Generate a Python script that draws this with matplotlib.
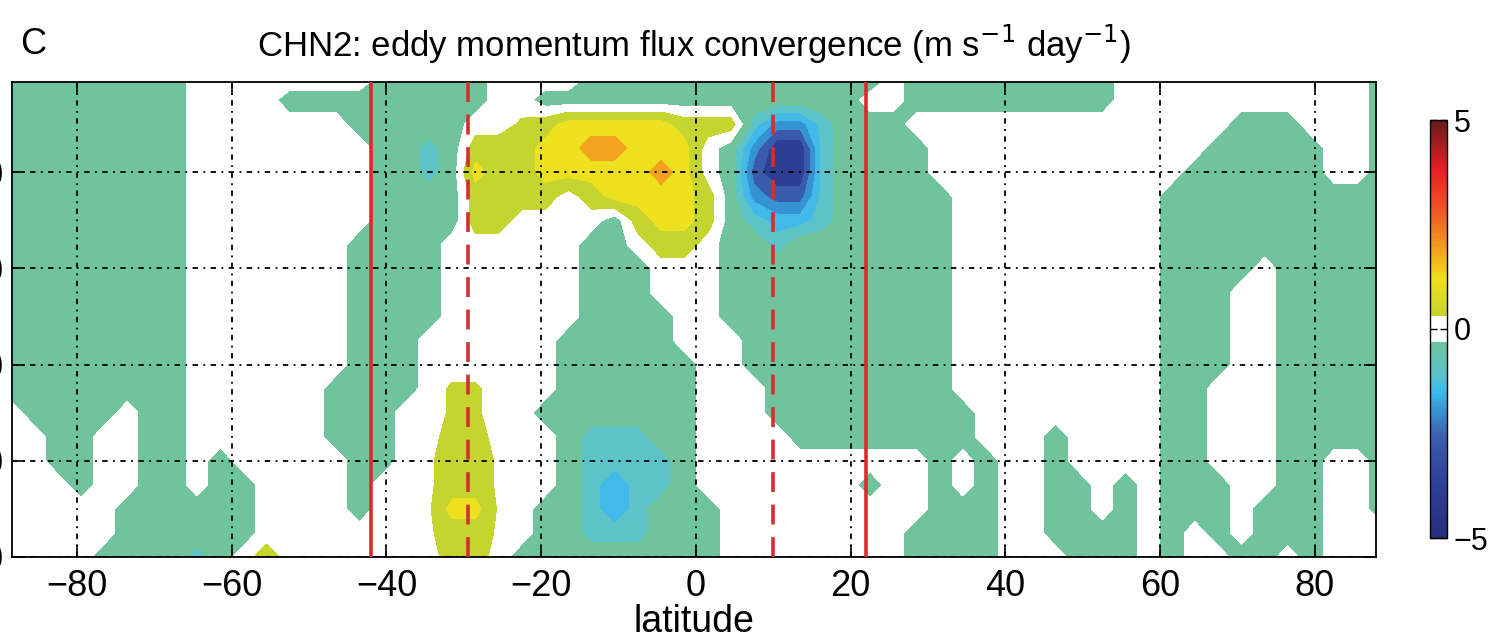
import numpy as np
import matplotlib
matplotlib.use("Agg")
import matplotlib.pyplot as plt
from matplotlib.colors import LinearSegmentedColormap, ListedColormap, Normalize

plt.rcParams['font.family'] = ['Liberation Sans', 'DejaVu Sans']

# ---------------- data ----------------
latitudes = np.arange(-88.5, 89.0, 3.0)          # 60 columns
pressure = [12, 50, 100, 150, 200, 250, 300, 350, 400, 450, 500,
            550, 600, 650, 700, 750, 800, 850, 900, 950, 1000]

# value class of each grid cell (one string per pressure level, 60 latitudes)
code_values = {'.': 0.0, 'w': 0.2, 'x': 0.4, 'g': -0.65, 'c': -1.25,
               'l': -1.75, 'L': -1.95, 'b': -2.25, 'd': -2.75, 'n': -3.4,
               'y': 0.65, 'Y': 1.25, 'o': 1.75}
field_rows = [
    "gggggggg.. ......gggg g....ggggg gggggggg.g gggggggg.. .........g",
    "gggggggg.. ..gggggggg g..ggggggg ggggggg..g gggggggg.. .........g",
    "gggggggg.. .....ggggg ..xyYYYYYy yycbbcggg. .......... ...ggg...g",
    "gggggggg.. ......ggcg yyyYYooYYY .gbnncgggg .......... ..ggggg..g",
    "gggggggg.. ......ggcg YyyYYYYYoY .gdnncgggg .......... .gggggg..g",
    "gggggggg.. ......gggg yyyy.yYYYY ygbddcgggg g......... gggggggggg",
    "gggggggg.. ......gggg yy....gyYY ygcllcgggg g......... gggggggggg",
    "gggggggg.. .....gggg. .....gg.yy .ggcgggggg g......... gggggggggg",
    "gggggggg.. .....gggg. .....ggg.. .ggggggggg g......... gggg.ggggg",
    "gggggggg.. .....gggg. .....ggg.. .ggggggggg g......... ggg..ggggg",
    "gggggggg.. .....gggg. .....gggg. .ggggggggg g......... ggg..ggggg",
    "gggggggg.. .....ggg.. ....ggggg. ..gggggggg g......... ggg..ggggg",
    "gggggggg.. .....ggg.. ....gggggg ..gggggggg g......... ggg..ggggg",
    "gggggggg.. ....gggg.x x...gggggg ...ggggggg g......... gg...ggggg",
    ".gggg.gg.. ....ggg..x x..ggggggg ...ggggggg gg........ gg...ggggg",
    "..gg..gg.. ....ggg..y y...gcccgg ....gggggg gg...g.... gg...ggggg",
    "..gg..gg.g .....gg.wy yw..gccccg .......... g.g..g.... gg...gg..g",
    "...g..gg.g g....g..wy yw..gcLccg .......g.. g.g..gg.g. ggg..gg..g",
    ".....ggggg g....g..wY Yw.ggcLcgg g......... ggg..gg.g. ggg.ggg..g",
    ".....ggggg g.......wy yw.ggcccgg g........g ggg..gggg. g.g.ggg...",
    "....ggggcg .y.......y y.gggggggg g........g ggg...ggg. g..gg.g...",
]

# contour levels and band colours
levels = [-6, -3.5, -3, -2.5, -2, -1.5, -1, -0.3, 0.3, 1, 1.5, 2, 2.5, 6]
band_colors = ['#28327f', '#2d3f95', '#3a5aac', '#3592d3', '#42b9e8', '#5cc3c8',
               '#6fc49b', '#ffffff', '#c5d42f', '#ede01e', '#f4a321', '#ee6b22',
               '#e52a26']

# colour bar gradient (value, colour)
cbar_nodes = [(-5.0, '#25307e'), (-3.7, '#2e3f96'), (-2.6, '#3c5dae'),
              (-2.0, '#3a8fd0'), (-1.5, '#3bbdea'), (-1.0, '#5cc3c4'),
              (-0.3, '#6dc59a'), (0.3, '#c5d42f'), (1.2, '#f0e01c'),
              (2.0, '#f39a1e'), (2.8, '#ee5a22'), (3.8, '#e82026'),
              (5.0, '#6b1a1a')]
white_band = (-0.3, 0.3)

# reference latitudes (red lines)
solid_lats = [-42.0, 22.0]
dashed_lats = [-29.5, 10.0]

xticks = [-80, -60, -40, -20, 0, 20, 40, 60, 80]
yticks = [200, 400, 600, 800, 1000]

# ---------------- figure ----------------
W, H = 1493, 640
fig = plt.figure(figsize=(W / 100, H / 100), dpi=100)
ax = fig.add_axes([12 / W, 83 / H, 1364 / W, 475 / H])

Z = np.array([[code_values[ch] for ch in row.replace(' ', '')] for row in field_rows])
assert Z.shape == (len(pressure), len(latitudes)), Z.shape
ax.contourf(latitudes, pressure, Z, levels=levels, colors=band_colors, zorder=1)

ax.set_xlim(-88.4, 87.9)
ax.set_ylim(1000, 12.5)

ax.set_xticks(xticks)
ax.set_xticklabels([f"{t:d}".replace('-', '\u2212') for t in xticks])
ax.set_yticks(yticks)
ax.set_yticklabels([str(t) for t in yticks])
ax.tick_params(direction='in', length=9, width=1.2, top=True, right=True,
               labelsize=26, pad=6)
ax.tick_params(axis='x', pad=9)

ax.grid(True, color='k', linestyle=(0, (3, 3, 1, 3)), linewidth=1.3, zorder=3)
ax.set_axisbelow(False)

for lat in solid_lats:
    ax.axvline(lat, color='#e3262b', lw=2.6, zorder=4)
for lat in dashed_lats:
    ax.axvline(lat, color='#d0302f', lw=2.6, linestyle=(0, (5.5, 3.5)), zorder=4)

for s in ax.spines.values():
    s.set_linewidth(1.3)

ax.set_xlabel('latitude', fontsize=27, labelpad=0)
ax.set_title(r'CHN2: eddy momentum flux convergence (m s$^{-1}$ day$^{-1}$)',
             fontsize=25, pad=18)
fig.text(20 / W, 1 - 45 / H, 'C', fontsize=26, va='center', ha='left')

# colour bar
cax = fig.add_axes([1430 / W, (H - 538) / H, 17 / W, 418 / H])
base = LinearSegmentedColormap.from_list(
    'cb', [((v + 5) / 10, c) for v, c in cbar_nodes])
vals = np.linspace(-5, 5, 256)
cols = base((vals + 5) / 10)
cols[(vals > white_band[0]) & (vals < white_band[1])] = (1, 1, 1, 1)
cmap = ListedColormap(cols)
sm = matplotlib.cm.ScalarMappable(norm=Normalize(-5, 5), cmap=cmap)
cb = fig.colorbar(sm, cax=cax, ticks=[-5, 0, 5])
cb.ax.set_yticklabels(['\u22125', '0', '5'])
cb.ax.tick_params(direction='in', length=5, width=1.0, labelsize=22, pad=5,
                  left=True, right=True)
cb.outline.set_linewidth(1.0)

fig.savefig('out.png', dpi=100)
